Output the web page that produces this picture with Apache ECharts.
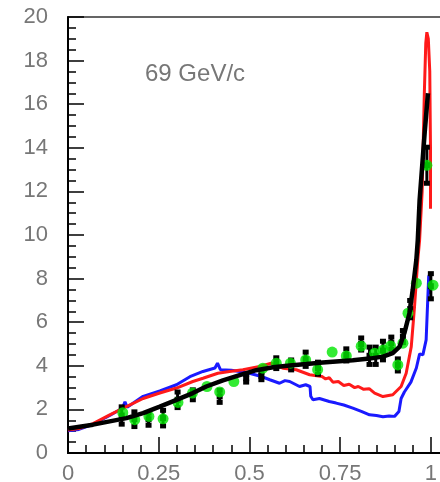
<!DOCTYPE html>
<html>
<head>
<meta charset="utf-8">
<script src="https://cdn.jsdelivr.net/npm/echarts@6/dist/echarts.min.js"></script>
<style>
  html, body { margin: 0; padding: 0; background: #fff; }
  #chart { width: 440px; height: 482px; }
</style>
</head>
<body>
<div id="chart"></div>
<script>
// Tick positions of both axes
const xTicks = [0, 0.25, 0.5, 0.75, 1];
const yTicks = [0, 2, 4, 6, 8, 10, 12, 14, 16, 18, 20];

// Model curves: [x, y]
const blueCurve = [
  [0, 1.02], [0.03, 1.08], [0.069, 1.32], [0.115, 1.72], [0.15, 2.05], [0.157, 2.35],
  [0.163, 2.1], [0.207, 2.6], [0.253, 2.85], [0.299, 3.13], [0.336, 3.5], [0.372, 3.74],
  [0.405, 3.9], [0.412, 4.12], [0.42, 3.82], [0.45, 3.8], [0.473, 3.74], [0.5, 3.66],
  [0.533, 3.51], [0.556, 3.36], [0.583, 3.2], [0.598, 3.32], [0.611, 3.28], [0.638, 3.05],
  [0.655, 3.13], [0.667, 3.05], [0.669, 2.6], [0.675, 2.44], [0.693, 2.5], [0.72, 2.36],
  [0.739, 2.29], [0.76, 2.2], [0.785, 2.06], [0.81, 1.9], [0.831, 1.75], [0.85, 1.72],
  [0.868, 1.66], [0.885, 1.7], [0.9, 1.68], [0.912, 1.9], [0.918, 2.5], [0.927, 2.8],
  [0.945, 3.25], [0.96, 3.9], [0.969, 4.55], [0.978, 4.5], [0.987, 5.19], [0.994, 8.09],
  [0.997, 8.2], [0.999, 7.3]
];
const redCurve = [
  [0, 1.05], [0.03, 1.12], [0.069, 1.35], [0.115, 1.75], [0.161, 2.13], [0.207, 2.5],
  [0.253, 2.75], [0.299, 2.98], [0.344, 3.28], [0.372, 3.43], [0.413, 3.66], [0.445, 3.74],
  [0.482, 3.82], [0.528, 3.97], [0.56, 4.12], [0.575, 4.0], [0.592, 3.89], [0.629, 3.82],
  [0.666, 3.59], [0.7, 3.51], [0.71, 3.4], [0.72, 3.45], [0.73, 3.25], [0.745, 3.28],
  [0.76, 3.1], [0.775, 3.15], [0.79, 3.0], [0.8, 3.05], [0.815, 2.92], [0.83, 2.95],
  [0.845, 2.75], [0.868, 2.59], [0.895, 2.67], [0.918, 3.05], [0.932, 3.66], [0.946, 4.88],
  [0.955, 6.72], [0.964, 8.86], [0.969, 9.77], [0.976, 12.0], [0.982, 16.5], [0.986, 18.8],
  [0.989, 19.3], [0.993, 19.0], [0.997, 17.5], [0.999, 14], [0.999, 11.2]
];
const blackCurve = [
  [0, 1.12], [0.005, 1.14], [0.069, 1.3], [0.115, 1.45], [0.161, 1.6], [0.207, 1.83],
  [0.253, 2.13], [0.299, 2.44], [0.344, 2.75], [0.381, 3.05], [0.427, 3.33], [0.473, 3.57],
  [0.519, 3.8], [0.565, 3.93], [0.611, 4.01], [0.657, 4.08], [0.702, 4.15], [0.739, 4.2],
  [0.785, 4.25], [0.831, 4.33], [0.868, 4.42], [0.895, 4.58], [0.914, 4.88], [0.927, 5.5],
  [0.941, 6.41], [0.95, 7.48], [0.96, 8.86], [0.964, 9.77], [0.969, 11.6], [0.983, 14.7],
  [0.992, 16.5]
];

// Measured points: green circles [x, y]
const greenPoints = [
  [0.151, 1.85], [0.184, 1.53], [0.223, 1.68], [0.262, 1.57], [0.303, 2.32], [0.343, 2.75],
  [0.383, 3.05], [0.418, 2.8], [0.457, 3.28], [0.537, 3.89], [0.574, 4.12], [0.613, 4.12],
  [0.655, 4.27], [0.688, 3.82], [0.728, 4.63], [0.767, 4.45], [0.808, 4.9], [0.845, 4.58],
  [0.869, 4.73], [0.889, 4.91], [0.909, 4.04], [0.923, 5.04], [0.937, 6.41], [0.96, 7.79],
  [0.989, 13.2], [1.006, 7.7]
];
// Measured points: black squares with errors [x, y, error]
const blackPoints = [
  [0.148, 1.72, 0.42], [0.183, 1.55, 0.36], [0.222, 1.55, 0.3], [0.262, 1.6, 0.38],
  [0.302, 2.44, 0.38], [0.344, 2.67, 0.25], [0.418, 2.6, 0.3], [0.491, 3.43, 0.2],
  [0.533, 3.54, 0.2], [0.574, 4.12, 0.27], [0.615, 4.04, 0.25], [0.655, 4.3, 0.35],
  [0.689, 3.89, 0.3], [0.767, 4.5, 0.3], [0.808, 5.0, 0.3], [0.831, 4.46, 0.42],
  [0.848, 4.46, 0.42], [0.868, 4.7, 0.45], [0.891, 5.04, 0.3], [0.909, 4.04, 0.3],
  [0.923, 5.34, 0.3], [0.943, 6.6, 0.42], [0.989, 13.2, 0.85], [1.0, 7.65, 0.6]
];

const labelText = '69 GeV/c';

const chart = echarts.init(document.getElementById('chart'), null, { renderer: 'canvas' });

const labelStyle = { color: '#777', fontSize: 22, fontFamily: 'Liberation Sans, Arial, sans-serif' };

function errorBar(params, api) {
  const x = api.value(0), y = api.value(1), e = api.value(2);
  const top = api.coord([x, y + e]);
  const bot = api.coord([x, y - e]);
  const c = api.coord([x, y]);
  return {
    type: 'group',
    children: [
      { type: 'line', shape: { x1: top[0], y1: top[1], x2: bot[0], y2: bot[1] }, style: { stroke: '#000', lineWidth: 3 } },
      { type: 'rect', shape: { x: top[0] - 3, y: top[1] - 2, width: 6, height: 5 }, style: { fill: '#000' } },
      { type: 'rect', shape: { x: bot[0] - 3, y: bot[1] - 3, width: 6, height: 5 }, style: { fill: '#000' } },
      { type: 'rect', shape: { x: c[0] - 3, y: c[1] - 3, width: 6, height: 6 }, style: { fill: '#000' } }
    ]
  };
}

chart.setOption({
  animation: false,
  backgroundColor: '#fff',
  grid: {
    left: 68, top: 17, bottom: 29, right: -9,
    outerBoundsMode: 'none', containLabel: false,
    show: true, borderColor: '#333', borderWidth: 1.5, backgroundColor: 'transparent'
  },
  graphic: [{
    type: 'text', left: 145, top: 62,
    style: { text: labelText, fill: '#777', fontSize: 24, fontFamily: 'Liberation Sans, Arial, sans-serif' }
  }],
  xAxis: {
    type: 'value', min: xTicks[0], max: 1.05, interval: xTicks[1] - xTicks[0],
    axisLine: { lineStyle: { color: '#000', width: 2 } },
    axisTick: { inside: true, length: 16, lineStyle: { color: '#000', width: 1.5 } },
    minorTick: { show: true, splitNumber: 5, length: 8, lineStyle: { color: '#000', width: 1.5 } },
    splitLine: { show: false },
    axisLabel: Object.assign({ margin: 10, showMaxLabel: false,
      formatter: v => xTicks.includes(v) ? String(v) : '' }, labelStyle)
  },
  yAxis: {
    type: 'value', min: yTicks[0], max: yTicks[yTicks.length - 1], interval: yTicks[1] - yTicks[0],
    axisLine: { lineStyle: { color: '#000', width: 2 } },
    axisTick: { inside: true, length: 16, lineStyle: { color: '#000', width: 1.5 } },
    minorTick: { show: true, splitNumber: 4, length: 8, lineStyle: { color: '#000', width: 1.5 } },
    splitLine: { show: false },
    axisLabel: Object.assign({ margin: 20 }, labelStyle)
  },
  series: [
    { type: 'line', data: blueCurve, symbol: 'none', z: 2,
      lineStyle: { color: '#1a1aff', width: 3 } },
    { type: 'line', data: redCurve, symbol: 'none', z: 3,
      lineStyle: { color: '#ff1a1a', width: 3 } },
    { type: 'custom', data: blackPoints, renderItem: errorBar, z: 4,
      encode: { x: 0, y: 1 } },
    { type: 'scatter', data: greenPoints, symbol: 'circle', symbolSize: 11, z: 5,
      itemStyle: { color: '#00e600' } },
    { type: 'line', data: blackCurve, symbol: 'none', z: 6,
      lineStyle: { color: '#000', width: 4.5 } }
  ]
});
</script>
</body>
</html>
